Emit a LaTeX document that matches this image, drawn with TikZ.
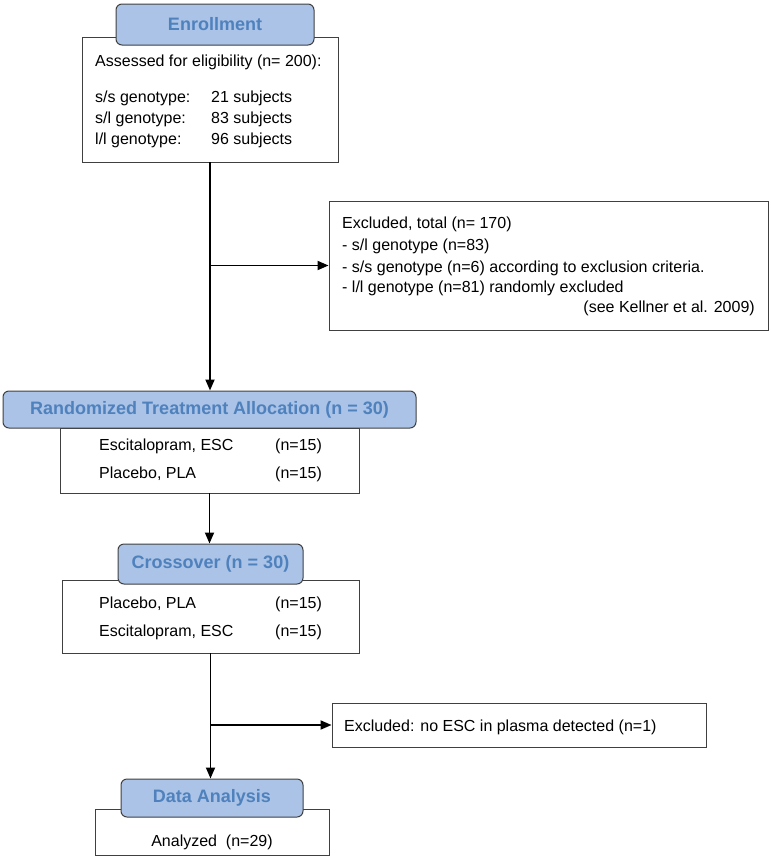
\documentclass[tikz,border=0pt]{standalone}
\usepackage{fontspec}
\setmainfont{Liberation Sans}
\usetikzlibrary{arrows.meta}
\definecolor{headfill}{HTML}{AAC3E7}
\definecolor{headtext}{HTML}{4F81BD}
\definecolor{boxline}{HTML}{404040}
\tikzset{
  box/.style={draw=boxline, line width=0.9pt, fill=white, inner sep=0pt},
  head/.style={draw=boxline, line width=1pt, fill=headfill, rounded corners=6pt,
    text=headtext, font=\fontsize{18}{21}\selectfont\bfseries, inner sep=0pt},
  txt/.style={anchor=base west, inner sep=0pt, font=\fontsize{16}{19}\selectfont},
  flow/.style={line width=1.8pt, -{Triangle[length=11pt,width=9pt]}}
}
\begin{document}
\begin{tikzpicture}[x=1pt,y=-1pt]
    \useasboundingbox (0,0) rectangle (771,857);
    % boxes
    \node[box, minimum width=256, minimum height=125] (enrollBox) at (210,99.5) {};
    \node[box, minimum width=439, minimum height=129] (exclBox) at (548.5,265.5) {};
    \node[box, minimum width=299, minimum height=65] (randBox) at (209.5,460.5) {};
    \node[box, minimum width=297, minimum height=73] (crossBox) at (210.5,616.5) {};
    \node[box, minimum width=374, minimum height=44] (exclTwo) at (519,725) {};
    \node[box, minimum width=234, minimum height=46] (dataBox) at (212,832) {};
    % headers
    \node[head, minimum width=198, minimum height=41] (enrollHead) at (215,24.5) {Enrollment};
    \node[head, minimum width=413, minimum height=37] (randHead) at (209.5,409.5) {Randomized Treatment Allocation (n = 30)};
    \node[head, minimum width=185, minimum height=40] (crossHead) at (210.5,564) {Crossover (n = 30)};
    \node[head, minimum width=182, minimum height=38] (dataHead) at (212,798) {Data Analysis};
    % texts
    \node[txt] (assessed) at (95,66) {Assessed for eligibility (n= 200):};
    \node[txt] (ssType) at (95,102) {s/s genotype:};
    \node[txt] (slType) at (95,123) {s/l genotype:};
    \node[txt] (llType) at (95,144) {l/l genotype:};
    \node[txt] (ssNum) at (211,102) {21 subjects};
    \node[txt] (slNum) at (211,123) {83 subjects};
    \node[txt] (llNum) at (211,144) {96 subjects};
    \node[txt] (exclTotal) at (342,228) {Excluded, total (n= 170)};
    \node[txt] (exclSl) at (342,250) {- s/l genotype (n=83)};
    \node[txt] (exclSs) at (342,272) {- s/s genotype (n=6) according to exclusion criteria.};
    \node[txt] (exclLl) at (342,292) {- l/l genotype (n=81) randomly excluded};
    \node[txt, anchor=base east] (exclRef) at (755,312) {(see Kellner et al. 2009)};
    \node[txt] (randEsc) at (99,450) {Escitalopram, ESC};
    \node[txt] (randEscN) at (275,450) {(n=15)};
    \node[txt] (randPla) at (99,478) {Placebo, PLA};
    \node[txt] (randPlaN) at (275,478) {(n=15)};
    \node[txt] (crossPla) at (99,608) {Placebo, PLA};
    \node[txt] (crossPlaN) at (275,608) {(n=15)};
    \node[txt] (crossEsc) at (99,636) {Escitalopram, ESC};
    \node[txt] (crossEscN) at (275,636) {(n=15)};
    \node[txt] (exclPlasma) at (344,731) {Excluded: no ESC in plasma detected (n=1)};
    \node[txt, anchor=base] (analyzed) at (212,846) {Analyzed\ \ (n=29)};
    % connectors
    \draw[flow] (enrollBox.south) -- (enrollBox.south |- randHead.north);
    \draw[flow] (enrollBox.south |- exclBox.west) -- (exclBox.west);
    \draw[flow] (randBox.south) -- (randBox.south |- crossHead.north);
    \draw[flow] (crossBox.south) -- (crossBox.south |- dataHead.north);
    \draw[flow] (crossBox.south |- exclTwo.west) -- (exclTwo.west);
\end{tikzpicture}
\end{document}
